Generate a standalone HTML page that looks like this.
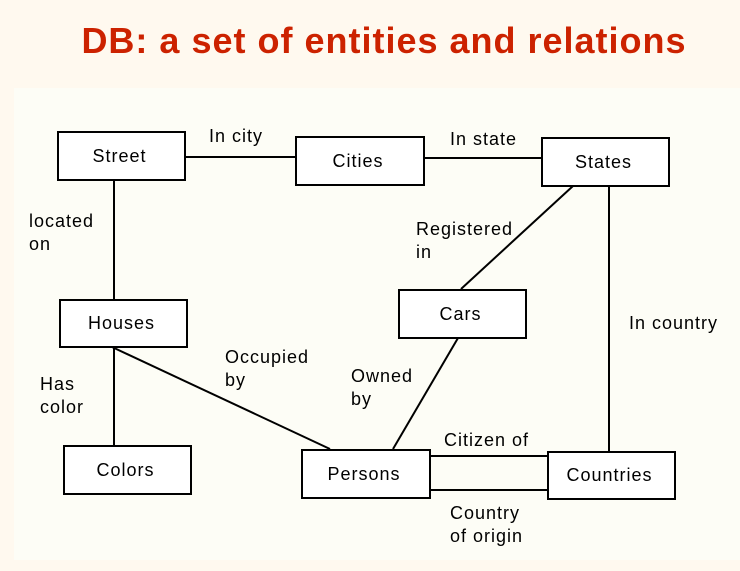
<!DOCTYPE html>
<html><head><style>
body{margin:0;width:740px;height:571px;background:#fff9ef;position:relative;overflow:hidden;font-family:"Liberation Sans",sans-serif}
.t{position:absolute;left:0;width:768px;text-align:center;top:20px;font-size:36px;letter-spacing:1px;font-weight:bold;color:#cc2200}
#p{position:absolute;left:14px;top:88px;width:726px;height:472px;background:#fdfdf6}
.b{position:absolute;box-sizing:border-box;border:2px solid #000;background:#fff;font-size:18px;letter-spacing:1px;display:flex;align-items:center;justify-content:center;padding-right:4px}
.l{position:absolute;font-size:18px;letter-spacing:1px;line-height:23px;color:#000}
svg{position:absolute;left:0;top:0}
</style></head><body>
<div class="t">DB: a set of entities and relations</div>
<div id="p"></div>
<svg width="740" height="571"><g stroke="#000" stroke-width="2">
<line x1="185" y1="157" x2="295" y2="157"/>
<line x1="424" y1="158" x2="541" y2="158"/>
<line x1="114" y1="180" x2="114" y2="299"/>
<line x1="609" y1="186" x2="609" y2="451"/>
<line x1="573" y1="186" x2="461" y2="289"/>
<line x1="114" y1="347" x2="114" y2="445"/>
<line x1="112" y1="347" x2="330" y2="449"/>
<line x1="458" y1="338" x2="393" y2="449"/>
<line x1="430" y1="456" x2="547" y2="456"/>
<line x1="430" y1="490" x2="547" y2="490"/>
</g></svg>
<div class="b" style="left:57px;top:131px;width:129px;height:50px">Street</div>
<div class="b" style="left:295px;top:136px;width:130px;height:50px">Cities</div>
<div class="b" style="left:541px;top:137px;width:129px;height:50px">States</div>
<div class="b" style="left:59px;top:299px;width:129px;height:49px">Houses</div>
<div class="b" style="left:398px;top:289px;width:129px;height:50px">Cars</div>
<div class="b" style="left:63px;top:445px;width:129px;height:50px">Colors</div>
<div class="b" style="left:301px;top:449px;width:130px;height:50px">Persons</div>
<div class="b" style="left:547px;top:451px;width:129px;height:49px">Countries</div>
<div class="l" style="left:209px;top:125px">In city</div>
<div class="l" style="left:450px;top:128px">In state</div>
<div class="l" style="left:29px;top:210px">located<br>on</div>
<div class="l" style="left:416px;top:218px">Registered<br>in</div>
<div class="l" style="left:629px;top:312px">In country</div>
<div class="l" style="left:225px;top:346px">Occupied<br>by</div>
<div class="l" style="left:351px;top:365px">Owned<br>by</div>
<div class="l" style="left:40px;top:373px">Has<br>color</div>
<div class="l" style="left:444px;top:429px">Citizen of</div>
<div class="l" style="left:450px;top:502px">Country<br>of origin</div>
</body></html>
